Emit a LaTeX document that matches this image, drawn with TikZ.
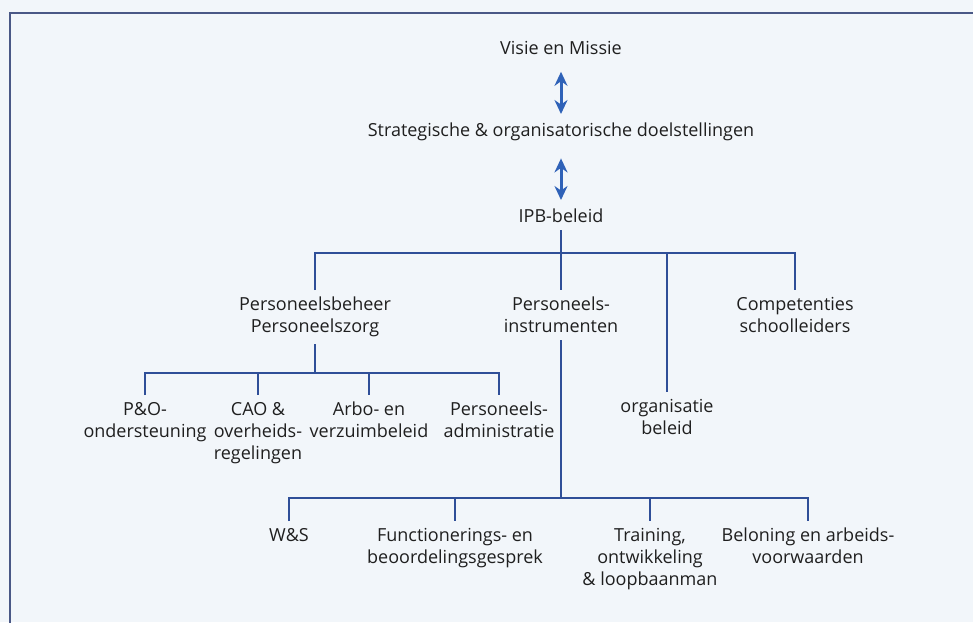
\documentclass[tikz,border=0pt]{standalone}
\usepackage{fontspec}
\setmainfont{Open Sans}
\usetikzlibrary{arrows.meta}
\definecolor{linkblue}{HTML}{2F4F98}
\definecolor{framegray}{HTML}{4A5886}
\definecolor{arrowblue}{HTML}{2F62B8}
\definecolor{paper}{HTML}{F2F6FA}
\begin{document}
\begin{tikzpicture}[x=1pt,y=-1pt,
    lbl/.style={anchor=north, align=center, inner xsep=2pt, inner ysep=7pt,
      text=black!88, font=\fontsize{18}{22}\selectfont},
    conn/.style={draw=linkblue, line width=2.4pt, line join=miter},
    twoway/.style={draw=arrowblue, line width=3pt,
      {Stealth[length=14pt,width=13pt]}-{Stealth[length=14pt,width=13pt]},
      shorten <=10pt, shorten >=2pt}]
    \fill[paper] (0,0) rectangle (973,622);
    \useasboundingbox (0,0) rectangle (973,622);
    \draw[framegray, line width=2pt] (10,623) -- (10,13) -- (974,13);

    \node[lbl] (visie)  at (561,34)  {Visie en Missie};
    \node[lbl] (strat)  at (561,116) {Strategische \& organisatorische doelstellingen};
    \node[lbl] (ipb)    at (561,202) {IPB-beleid};

    \node[lbl] (beheer) at (315,290) {Personeelsbeheer\\Personeelszorg};
    \node[lbl] (instr)  at (561,290) {Personeels-\\instrumenten};
    \node[lbl] (org)    at (667,392) {organisatie\\beleid};
    \node[lbl] (comp)   at (795,290) {Competenties\\schoolleiders};

    \node[lbl] (po)     at (145,395) {P\&O-\\ondersteuning};
    \node[lbl] (cao)    at (258,395) {CAO \&\\overheids-\\regelingen};
    \node[lbl] (arbo)   at (369,395) {Arbo- en\\verzuimbeleid};
    \node[lbl] (adm)    at (499,395) {Personeels-\\administratie};

    \node[lbl] (ws)     at (289,521) {W\&S};
    \node[lbl] (func)   at (455,521) {Functionerings- en\\beoordelingsgesprek};
    \node[lbl] (train)  at (650,521) {Training,\\ontwikkeling\\\& loopbaanman};
    \node[lbl] (bel)    at (808,521) {Beloning en arbeids-\\voorwaarden};

    \coordinate (bar1) at (0,253);
    \coordinate (bar2) at (0,373);
    \coordinate (bar3) at (0,498);

    \draw[twoway] (visie) -- (strat);
    \draw[twoway] (strat) -- (ipb);

    \draw[conn] (ipb.south) -- (instr.north);
    \draw[conn] (beheer.north) -- (beheer.north |- bar1) -- (comp.north |- bar1) -- (comp.north);
    \draw[conn] (org.north |- bar1) -- (org.north);

    \draw[conn] (beheer.south) -- (beheer.south |- bar2);
    \draw[conn] (po.north) -- (po.north |- bar2) -- (adm.north |- bar2) -- (adm.north);
    \foreach \n in {cao,arbo}
      \draw[conn] (\n.north |- bar2) -- (\n.north);

    \draw[conn] (instr.south) -- (instr.south |- bar3);
    \draw[conn] (ws.north) -- (ws.north |- bar3) -- (bel.north |- bar3) -- (bel.north);
    \foreach \n in {func,train}
      \draw[conn] (\n.north |- bar3) -- (\n.north);
\end{tikzpicture}
\end{document}
